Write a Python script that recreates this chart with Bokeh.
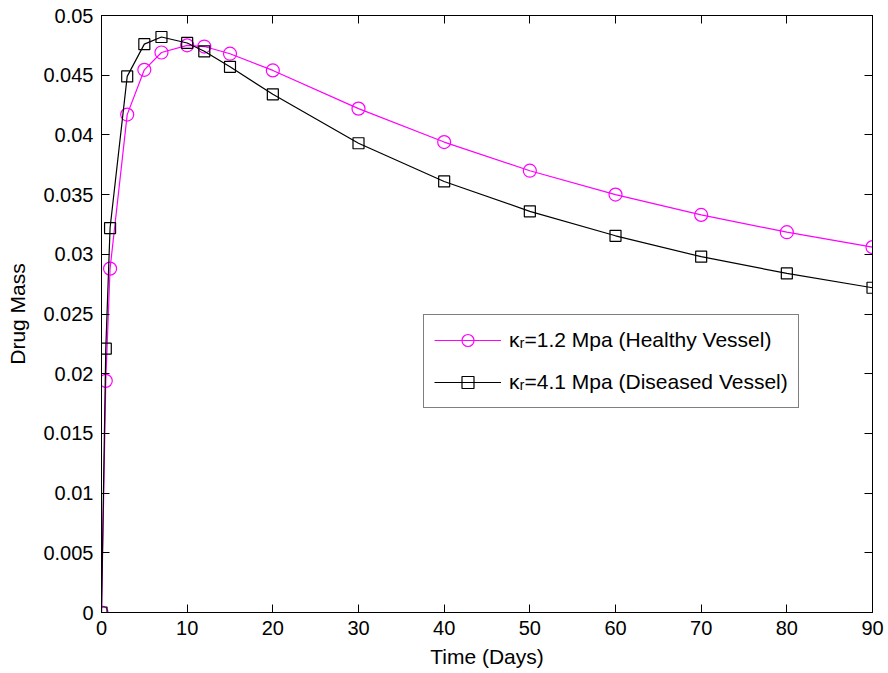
from bokeh.plotting import figure
from bokeh.models import (LinearAxis, FixedTicker, CustomJSTickFormatter, Legend,
                          LegendItem, Range1d)
from bokeh.embed import file_html
from bokeh.resources import INLINE

# ---- data ----
time_days = [0, 0.5, 1, 3, 5, 7, 10, 12, 15, 20, 30, 40, 50, 60, 70, 80, 90]
healthy = [0, 0.0194, 0.0288, 0.0417, 0.04545, 0.0469, 0.0475, 0.0474, 0.0468,
           0.0454, 0.0422, 0.0394, 0.0370, 0.0350, 0.0333, 0.03185, 0.0306]
diseased = [0, 0.0221, 0.0322, 0.0449, 0.0476, 0.0482, 0.0477, 0.0470, 0.0457,
            0.0434, 0.0393, 0.0361, 0.0336, 0.03155, 0.0298, 0.0284, 0.0272]
x_ticks = [0, 10, 20, 30, 40, 50, 60, 70, 80, 90]
y_ticks = [0, 0.005, 0.01, 0.015, 0.02, 0.025, 0.03, 0.035, 0.04, 0.045, 0.05]
label_healthy = "\u03baᵣ=1.2 Mpa (Healthy Vessel)"
label_diseased = "\u03baᵣ=4.1 Mpa (Diseased Vessel)"

FONT = "Liberation Sans"

p = figure(frame_width=771, frame_height=597,
           x_range=Range1d(0, 90), y_range=Range1d(0, 0.05),
           output_backend="svg", toolbar_location=None,
           min_border_left=101, min_border_right=16,
           min_border_top=15, min_border_bottom=61,
           x_axis_label="Time (Days)", y_axis_label="Drug Mass")

p.xgrid.visible = False
p.ygrid.visible = False
p.outline_line_color = "black"
p.outline_line_width = 1
p.background_fill_color = "white"
p.border_fill_color = "white"

fmt = CustomJSTickFormatter(code="return String(parseFloat(tick.toFixed(4)));")
blank = CustomJSTickFormatter(code="return '';")

for ax, ticks in ((p.xaxis[0], x_ticks), (p.yaxis[0], y_ticks)):
    ax.ticker = FixedTicker(ticks=ticks)
    ax.formatter = fmt
    ax.major_tick_in = 8
    ax.major_tick_out = 0
    ax.minor_tick_in = 0
    ax.minor_tick_out = 0
    ax.axis_line_color = "black"
    ax.major_tick_line_color = "black"
    ax.major_label_text_font = FONT
    ax.major_label_text_font_size = "20px"
    ax.major_label_text_color = "black"
    ax.axis_label_text_font = FONT
    ax.axis_label_text_font_size = "21px"
    ax.axis_label_text_font_style = "normal"
    ax.axis_label_text_color = "black"

p.xaxis[0].major_label_standoff = 8
p.xaxis[0].axis_label_standoff = 7
p.yaxis[0].major_label_standoff = 8
p.yaxis[0].axis_label_standoff = 11

# box ticks on top and right
top = LinearAxis(ticker=FixedTicker(ticks=x_ticks), formatter=blank,
                 major_tick_in=8, major_tick_out=0, minor_tick_in=0, minor_tick_out=0,
                 major_label_standoff=0, axis_line_color="black")
right = LinearAxis(ticker=FixedTicker(ticks=y_ticks), formatter=blank,
                   major_tick_in=8, major_tick_out=0, minor_tick_in=0, minor_tick_out=0,
                   major_label_standoff=0, axis_line_color="black")
p.add_layout(top, "above")
p.add_layout(right, "right")

h_line = p.line(time_days, healthy, line_color="#ff00ff", line_width=1.2)
h_mark = p.scatter(time_days, healthy, marker="circle", size=13, fill_color=None,
                   line_color="#ff00ff", line_width=1.2)
d_line = p.line(time_days, diseased, line_color="black", line_width=1.2)
d_mark = p.scatter(time_days, diseased, marker="square", size=11, fill_color=None,
                   line_color="black", line_width=1.2)

legend = Legend(items=[LegendItem(label=label_healthy, renderers=[h_line, h_mark]),
                       LegendItem(label=label_diseased, renderers=[d_line, d_mark])],
                location=(322, 204), orientation="vertical",
                label_text_font=FONT, label_text_font_size="21px", label_text_color="black",
                glyph_width=67, glyph_height=30, label_standoff=8,
                padding=10, spacing=12, margin=0,
                border_line_color="black", border_line_width=1,
                background_fill_color="white", background_fill_alpha=1)
p.add_layout(legend)

open("out.html", "w").write(file_html(p, INLINE))
